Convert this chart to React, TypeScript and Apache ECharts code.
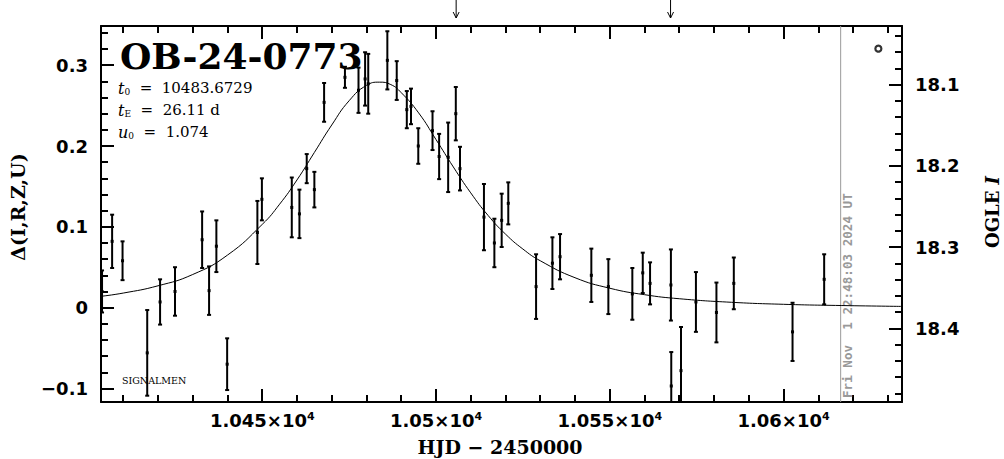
import React, { useEffect, useRef } from 'react';
import * as echarts from 'echarts';

// ---------- data ----------
const titleText = 'OB-24-0773';
const t0Text = '10483.6729';
const tEText = '26.11 d';
const u0Text = '1.074';
const stampText = 'Fri Nov  1 22:48:03 2024 UT';

const xMin = 10403.6;
const xMax = 10634.1;
const yMin = -0.1168;
const yMax = 0.3485;
const magMin = 18.028;
const magMax = 18.4906;

const xMajor = [10450, 10500, 10550, 10600];
const xMajorLabels = ['1.045', '1.05', '1.055', '1.06'];
const xMinor = [10410, 10420, 10430, 10440, 10460, 10470, 10480, 10490, 10510, 10520, 10530, 10540, 10560, 10570, 10580, 10590, 10610, 10620, 10630];
const yLeftMajor = [-0.1, 0, 0.1, 0.2, 0.3];
const yLeftMinor = [-0.08, -0.06, -0.04, -0.02, 0.02, 0.04, 0.06, 0.08, 0.12, 0.14, 0.16, 0.18, 0.22, 0.24, 0.26, 0.28, 0.32, 0.34];
const yRightMajor = [18.1, 18.2, 18.3, 18.4];
const yRightMinor = [18.04, 18.06, 18.08, 18.12, 18.14, 18.16, 18.18, 18.22, 18.24, 18.26, 18.28, 18.32, 18.34, 18.36, 18.38, 18.42, 18.44, 18.46, 18.48];

const obsDays = [10403.9, 10406.8, 10409.8, 10416.9, 10420.6, 10424.9, 10432.7, 10434.7, 10436.8, 10439.9, 10448.6, 10449.9, 10458.5, 10460.7, 10462.8, 10465.0, 10467.8, 10473.8, 10477.7, 10479.6, 10480.5, 10486.0, 10488.7, 10491.6, 10492.8, 10494.9, 10499.0, 10500.9, 10503.5, 10505.7, 10506.9, 10513.8, 10516.8, 10518.9, 10520.8, 10528.8, 10533.5, 10535.7, 10544.7, 10549.6, 10556.5, 10559.5, 10561.6, 10567.6, 10567.7, 10570.5, 10574.8, 10580.7, 10585.7, 10602.6, 10611.7];
const obsDelta = [0.020, 0.082, 0.058, -0.056, 0.007, 0.020, 0.084, 0.021, 0.076, -0.070, 0.093, 0.134, 0.124, 0.116, 0.172, 0.146, 0.254, 0.285, 0.269, 0.283, 0.277, 0.306, 0.281, 0.245, 0.249, 0.200, 0.219, 0.187, 0.186, 0.240, 0.172, 0.112, 0.080, 0.108, 0.129, 0.026, 0.055, 0.063, 0.040, 0.026, 0.017, 0.043, 0.030, 0.028, -0.097, -0.078, 0.007, -0.006, 0.030, -0.030, 0.035];
const obsErr = [0.026, 0.033, 0.024, 0.053, 0.028, 0.030, 0.035, 0.030, 0.032, 0.032, 0.039, 0.026, 0.037, 0.030, 0.018, 0.022, 0.024, 0.013, 0.028, 0.033, 0.037, 0.036, 0.024, 0.023, 0.022, 0.022, 0.024, 0.028, 0.043, 0.033, 0.027, 0.041, 0.030, 0.033, 0.026, 0.040, 0.032, 0.028, 0.033, 0.034, 0.032, 0.025, 0.026, 0.044, 0.042, 0.054, 0.037, 0.037, 0.032, 0.036, 0.031];

const curveDays = [10403.6, 10410, 10420, 10430, 10440, 10450, 10455, 10460, 10465, 10470, 10475, 10480, 10483.7, 10487, 10490, 10495, 10500, 10505, 10510, 10515, 10520, 10525, 10530, 10540, 10550, 10560, 10570, 10585, 10600, 10615, 10634.1];
const curveDelta = [0.014, 0.018, 0.027, 0.041, 0.065, 0.103, 0.128, 0.158, 0.192, 0.226, 0.256, 0.275, 0.279, 0.276, 0.266, 0.241, 0.208, 0.174, 0.142, 0.114, 0.091, 0.0725, 0.058, 0.037, 0.024, 0.016, 0.011, 0.0066, 0.0041, 0.0027, 0.0015];

const nowDay = 10616.45;
const arrowDays = [10505.8, 10567.5];
const markerPoint = [10627.3, 0.3205];

// ---------- chart ----------
const BLACK = '#000';
const LABEL_FONT = 'DejaVu Sans';
const SERIF = 'DejaVu Serif';

function xAxisDef(position: string, ticks: number[], len: number, showLine: boolean, labels: boolean) {
  return {
    type: 'value',
    min: xMin,
    max: xMax,
    position,
    axisLine: { show: showLine, onZero: false, lineStyle: { color: BLACK, width: 2 } },
    axisTick: { show: true, inside: true, length: len, customValues: ticks, lineStyle: { color: BLACK, width: 2 } },
    axisLabel: labels
      ? {
          show: true,
          customValues: ticks,
          margin: 9,
          formatter: (v: number) => {
            const i = xMajor.findIndex((m) => Math.abs(m - v) < 1e-6);
            return `{m|${i >= 0 ? xMajorLabels[i] : v}×10}{s|4}`;
          },
          rich: {
            m: { fontFamily: LABEL_FONT, fontWeight: 'bold', fontSize: 18, color: BLACK },
            s: { fontFamily: LABEL_FONT, fontWeight: 'bold', fontSize: 11, color: BLACK, verticalAlign: 'top' },
          },
        }
      : { show: false },
    splitLine: { show: false },
  };
}

function yAxisDef(position: string, min: number, max: number, inverse: boolean, ticks: number[], len: number, showLine: boolean, fmt: ((v: number) => string) | null) {
  return {
    type: 'value',
    min,
    max,
    inverse,
    position,
    axisLine: { show: showLine, onZero: false, lineStyle: { color: BLACK, width: 2 } },
    axisTick: { show: true, inside: true, length: len, customValues: ticks, lineStyle: { color: BLACK, width: 2 } },
    axisLabel: fmt
      ? { show: true, customValues: ticks, margin: 13, formatter: fmt, fontFamily: LABEL_FONT, fontWeight: 'bold', fontSize: 18, color: BLACK }
      : { show: false },
    splitLine: { show: false },
  };
}

const paramRich = {
  i: { fontFamily: SERIF, fontStyle: 'italic', fontSize: 16, fill: BLACK },
  s: { fontFamily: SERIF, fontSize: 9, fill: BLACK, verticalAlign: 'bottom' },
  n: { fontFamily: SERIF, fontSize: 15, fill: BLACK },
};

export default function App() {
  const ref = useRef<HTMLDivElement>(null);

  useEffect(() => {
    const chart = echarts.init(ref.current!, null, { renderer: 'svg' });

    const obs = obsDays.map((d, i) => [d, obsDelta[i], obsErr[i]]);
    const curve = curveDays.map((d, i) => [d, curveDelta[i]]);

    const option: any = {
      animation: false,
      backgroundColor: '#fff',
      grid: { left: 101, right: 102, top: 26, bottom: 57, containLabel: false },
      xAxis: [
        xAxisDef('bottom', xMajor, 13, true, true),
        xAxisDef('bottom', xMinor, 7, false, false),
        xAxisDef('top', xMajor, 13, true, false),
        xAxisDef('top', xMinor, 7, false, false),
      ],
      yAxis: [
        yAxisDef('left', yMin, yMax, false, yLeftMajor, 13, true, (v: number) => (v < 0 ? '−' + String(Math.abs(v)) : String(v))),
        yAxisDef('left', yMin, yMax, false, yLeftMinor, 7, false, null),
        yAxisDef('right', magMin, magMax, true, yRightMajor, 13, true, (v: number) => v.toFixed(1)),
        yAxisDef('right', magMin, magMax, true, yRightMinor, 7, false, null),
      ],
      series: [
        {
          type: 'line',
          xAxisIndex: 0,
          yAxisIndex: 0,
          data: curve,
          smooth: true,
          showSymbol: false,
          symbol: 'none',
          silent: true,
          lineStyle: { color: BLACK, width: 1 },
          z: 2,
        },
        {
          type: 'custom',
          xAxisIndex: 0,
          yAxisIndex: 0,
          data: obs,
          clip: true,
          silent: true,
          z: 3,
          renderItem: (params: any, api: any) => {
            const x = api.value(0);
            const y = api.value(1);
            const e = api.value(2);
            const top = api.coord([x, y + e]);
            const bot = api.coord([x, y - e]);
            const c = api.coord([x, y]);
            const cap = 2;
            const st = { stroke: BLACK, lineWidth: 2 };
            return {
              type: 'group',
              children: [
                { type: 'line', shape: { x1: top[0], y1: top[1], x2: bot[0], y2: bot[1] }, style: st },
                { type: 'line', shape: { x1: top[0] - cap, y1: top[1], x2: top[0] + cap, y2: top[1] }, style: st },
                { type: 'line', shape: { x1: bot[0] - cap, y1: bot[1], x2: bot[0] + cap, y2: bot[1] }, style: st },
                { type: 'rect', shape: { x: c[0] - 1.5, y: c[1] - 1.5, width: 3, height: 3 }, style: { fill: BLACK } },
              ],
            };
          },
        },
        {
          type: 'custom',
          xAxisIndex: 0,
          yAxisIndex: 0,
          data: [[nowDay, 0]],
          clip: false,
          silent: true,
          z: 1,
          renderItem: (params: any, api: any) => {
            const cs = params.coordSys;
            const px = api.coord([api.value(0), 0])[0];
            return {
              type: 'group',
              children: [
                { type: 'line', shape: { x1: px, y1: cs.y, x2: px, y2: cs.y + cs.height }, style: { stroke: '#999', lineWidth: 1 } },
                {
                  type: 'text',
                  x: px + 7,
                  y: cs.y + cs.height - 4,
                  rotation: Math.PI / 2,
                  style: {
                    text: stampText,
                    fill: '#999',
                    fontFamily: 'DejaVu Sans Mono',
                    fontWeight: 'bold',
                    fontSize: 12.6,
                    align: 'left',
                    verticalAlign: 'middle',
                  },
                },
              ],
            };
          },
        },
        {
          type: 'custom',
          xAxisIndex: 0,
          yAxisIndex: 0,
          data: arrowDays.map((d) => [d, yMax]),
          clip: false,
          silent: true,
          renderItem: (params: any, api: any) => {
            const p = api.coord([api.value(0), api.value(1)]);
            const x = p[0];
            const tip = p[1] - 8;
            return {
              type: 'group',
              children: [
                { type: 'line', shape: { x1: x, y1: 0, x2: x, y2: tip }, style: { stroke: BLACK, lineWidth: 1 } },
                { type: 'polyline', shape: { points: [[x - 3, tip - 6], [x, tip], [x + 3, tip - 6]] }, style: { stroke: BLACK, lineWidth: 1, fill: null } },
              ],
            };
          },
        },
        {
          type: 'scatter',
          xAxisIndex: 0,
          yAxisIndex: 0,
          data: [markerPoint],
          symbol: 'circle',
          symbolSize: 6,
          silent: true,
          itemStyle: { color: '#fff', borderColor: BLACK, borderWidth: 2.2 },
        },
      ],
      graphic: [
        {
          type: 'text',
          x: 120,
          y: 56,
          style: { text: titleText, fontFamily: SERIF, fontWeight: 'bold', fontSize: 36, fill: BLACK, align: 'left', verticalAlign: 'middle' },
        },
        {
          type: 'text',
          x: 118,
          y: 88,
          style: { text: `{i|t}{s|0}{n|  =  ${t0Text}}`, align: 'left', verticalAlign: 'middle', rich: paramRich },
        },
        {
          type: 'text',
          x: 118,
          y: 110,
          style: { text: `{i|t}{s|E}{n|  =  ${tEText}}`, align: 'left', verticalAlign: 'middle', rich: paramRich },
        },
        {
          type: 'text',
          x: 118,
          y: 132,
          style: { text: `{i|u}{s|0}{n|  =  ${u0Text}}`, align: 'left', verticalAlign: 'middle', rich: paramRich },
        },
        {
          type: 'text',
          x: 122,
          y: 380,
          style: { text: 'SIGNALMEN', fontFamily: SERIF, fontSize: 9.5, fill: BLACK, align: 'left', verticalAlign: 'middle' },
        },
        {
          type: 'text',
          x: 18,
          y: 207,
          rotation: Math.PI / 2,
          style: { text: 'Δ(I,R,Z,U)', fontFamily: SERIF, fontWeight: 'bold', fontSize: 19, fill: BLACK, align: 'center', verticalAlign: 'middle' },
        },
        {
          type: 'text',
          x: 992,
          y: 212,
          rotation: Math.PI / 2,
          style: {
            text: '{a|OGLE }{b|I}',
            align: 'center',
            verticalAlign: 'middle',
            rich: {
              a: { fontFamily: SERIF, fontWeight: 'bold', fontSize: 18, fill: BLACK },
              b: { fontFamily: SERIF, fontWeight: 'bold', fontStyle: 'italic', fontSize: 18, fill: BLACK },
            },
          },
        },
        {
          type: 'text',
          x: 500,
          y: 447,
          style: { text: 'HJD − 2450000', fontFamily: SERIF, fontWeight: 'bold', fontSize: 19, fill: BLACK, align: 'center', verticalAlign: 'middle' },
        },
      ],
    };

    chart.setOption(option);
    return () => chart.dispose();
  }, []);

  return <div ref={ref} style={{ position: 'fixed', left: 0, top: 0, width: 1004, height: 459 }} />;
}
